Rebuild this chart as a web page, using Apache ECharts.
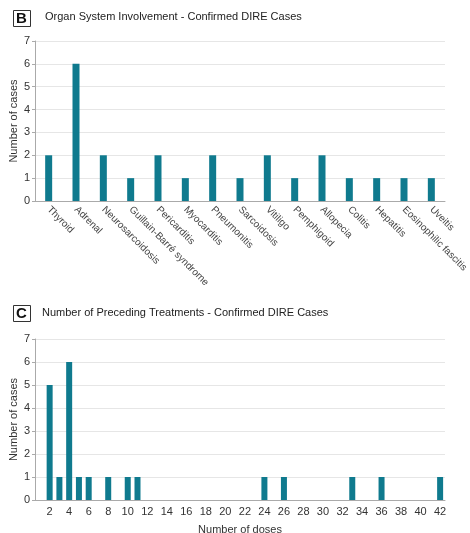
<!DOCTYPE html>
<html><head><meta charset="utf-8">
<script src="https://cdn.jsdelivr.net/npm/echarts@6/dist/echarts.min.js"></script>
<style>html,body{margin:0;padding:0;background:#fff}#c{width:470px;height:533px}</style>
</head><body><div id="c"></div>
<script>
const organCategories = ['Thyroid','Adrenal','Neurosarcoidosis','Guillain-Barré syndrome','Pericarditis','Myocarditis','Pneumonitis','Sarcoidosis','Vitiligo','Pemphigoid','Allopecia','Colitis','Hepatitis','Eosinophilic fascitis','Uveitis'];
const organCases = [2,6,2,1,2,1,2,1,2,1,2,1,1,1,1];
const doseValues = [2,3,4,5,6,8,10,11,24,26,33,36,42];
const doseCases = [5,1,6,1,1,1,1,1,1,1,1,1,1];
const doseAxisMax = 42;

const doseCategories = [];
for (let d = 1; d <= doseAxisMax; d++) doseCategories.push(String(d));
const doseData = doseCategories.map(c => {
  const i = doseValues.indexOf(Number(c));
  return i >= 0 ? doseCases[i] : null;
});

const font = 'Liberation Sans, Arial, sans-serif';
const barColor = '#0f7a8e';
const yAxisCommon = {
  type: 'value', min: 0, max: 7, interval: 1,
  name: 'Number of cases', nameLocation: 'middle', nameGap: 16, nameMoveOverlap: false,
  nameTextStyle: {fontFamily: font, fontSize: 11, color: '#333'},
  axisLine: {show: true, lineStyle: {color: '#aaa'}},
  axisTick: {show: true, length: 3, lineStyle: {color: '#aaa'}},
  axisLabel: {fontFamily: font, fontSize: 11, color: '#333', margin: 5},
  splitLine: {lineStyle: {color: '#e6e6e6'}}
};
const chart = echarts.init(document.getElementById('c'));
chart.setOption({
  animation: false,
  graphic: [
    {type:'rect', shape:{x:13.5,y:10.5,width:17,height:16}, style:{fill:'#fff', stroke:'#333', lineWidth:1}},
    {type:'text', left: 16, top: 11, style:{text:'B', font:'bold 15px ' + font, fill:'#111'}},
    {type:'text', left: 45, top: 11, style:{text:'Organ System Involvement - Confirmed DIRE Cases', font:'11px ' + font, fill:'#222'}},
    {type:'rect', shape:{x:13.5,y:305.5,width:17,height:16}, style:{fill:'#fff', stroke:'#333', lineWidth:1}},
    {type:'text', left: 16, top: 306, style:{text:'C', font:'bold 15px ' + font, fill:'#111'}},
    {type:'text', left: 42, top: 307, style:{text:'Number of Preceding Treatments - Confirmed DIRE Cases', font:'11px ' + font, fill:'#222'}}
  ],
  grid: [
    {left: 35, right: 25, top: 41, height: 160, containLabel: false, outerBoundsMode: 'none'},
    {left: 35, right: 25, top: 339, height: 161, containLabel: false, outerBoundsMode: 'none'}
  ],
  xAxis: [
    {gridIndex: 0, type: 'category', data: organCategories,
     axisLine: {lineStyle: {color: '#aaa'}},
     axisTick: {alignWithLabel: true, length: 3, lineStyle: {color: '#aaa'}},
     axisLabel: {rotate: -45, interval: 0, fontFamily: font, fontSize: 10, color: '#444', margin: 7}},
    {gridIndex: 1, type: 'category', data: doseCategories,
     name: 'Number of doses', nameLocation: 'middle', nameGap: 24, nameMoveOverlap: false,
     nameTextStyle: {fontFamily: font, fontSize: 11, color: '#333'},
     axisLine: {lineStyle: {color: '#aaa'}},
     axisTick: {alignWithLabel: true, length: 3, interval: (i, v) => Number(v) % 2 === 0, lineStyle: {color: '#aaa'}},
     axisLabel: {interval: (i, v) => Number(v) % 2 === 0, fontFamily: font, fontSize: 11, color: '#333', margin: 6}}
  ],
  yAxis: [
    Object.assign({gridIndex: 0}, yAxisCommon),
    Object.assign({gridIndex: 1}, yAxisCommon)
  ],
  series: [
    {type: 'bar', xAxisIndex: 0, yAxisIndex: 0, data: organCases, barWidth: 7, itemStyle: {color: barColor}},
    {type: 'bar', xAxisIndex: 1, yAxisIndex: 1, data: doseData, barWidth: 6, itemStyle: {color: barColor}}
  ]
});
</script></body></html>
